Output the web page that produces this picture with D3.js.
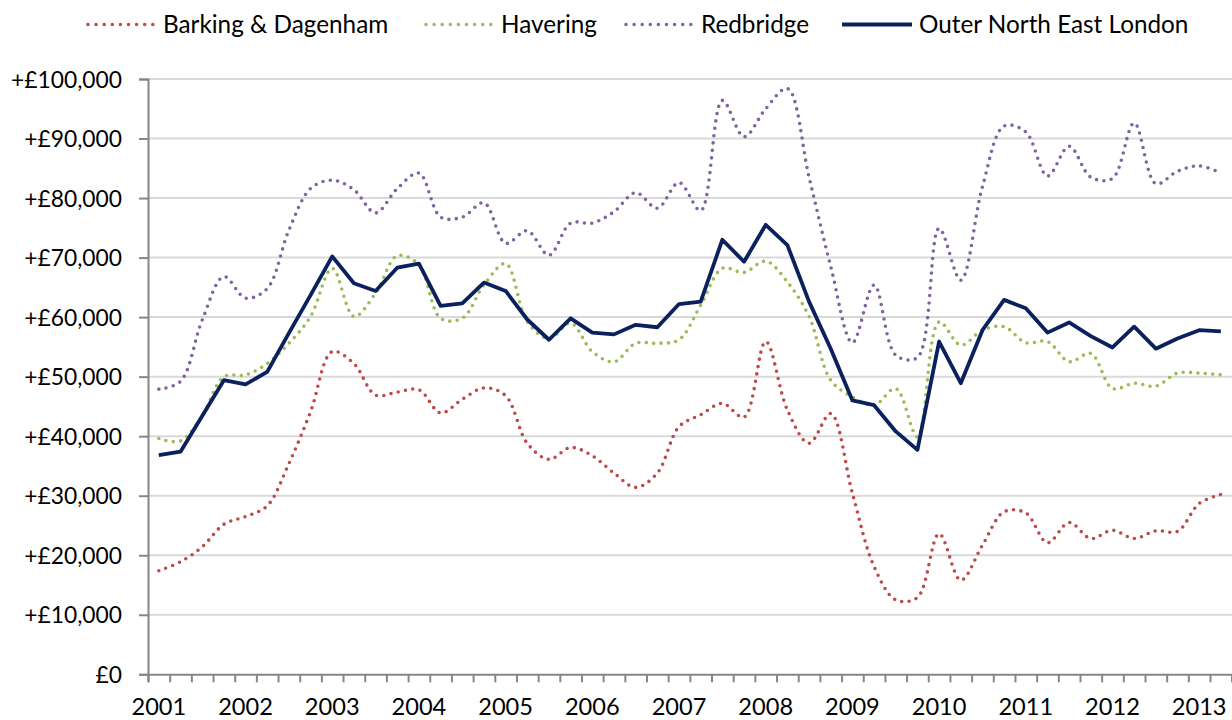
<!DOCTYPE html>
<html>
<head>
<meta charset="utf-8">
<script src="https://cdn.jsdelivr.net/npm/d3@7"></script>
<style>
  html, body { margin: 0; padding: 0; background: #fff; }
  svg { display: block; }
  text { font-family: Lato, "Open Sans", sans-serif; fill: #000; }
</style>
</head>
<body>
<svg id="chart" width="1232" height="720"></svg>
<script>
// Quarterly periods, 2001 Q1 to 2013 Q2
const years = [2001, 2002, 2003, 2004, 2005, 2006, 2007, 2008, 2009, 2010, 2011, 2012, 2013];
const quarters = years.flatMap(y => [1, 2, 3, 4].map(q => `${y} Q${q}`)).slice(0, 50);

// Value labels on the vertical axis
const yTicks = [0, 10000, 20000, 30000, 40000, 50000, 60000, 70000, 80000, 90000, 100000];

const barkingDagenham = [17400, 18900, 21400, 25200, 26500, 28300, 35400, 44100, 54200, 52200,
  46900, 47400, 47800, 43900, 46200, 48100, 46800, 38800, 36100, 38100,
  36700, 33800, 31400, 33800, 41600, 43600, 45500, 43200, 55900, 44400,
  38800, 43800, 30400, 18100, 12500, 12900, 23600, 15800, 21700, 27300,
  27100, 22100, 25500, 22800, 24200, 22800, 24100, 24000, 28700, 30200];

const havering = [39600, 39200, 43400, 50000, 50300, 52200, 55600, 60100, 68200, 60100,
  64000, 70300, 68800, 59800, 59800, 65400, 69000, 59200, 56400, 59000,
  54200, 52500, 55600, 55600, 56200, 62000, 68200, 67500, 69400, 65900,
  60100, 49400, 46600, 45200, 48000, 39900, 59200, 55300, 57800, 58400,
  55700, 55900, 52500, 53900, 48000, 48900, 48400, 50600, 50600, 50300];

const redbridge = [47900, 49200, 59500, 66800, 63200, 64800, 74600, 81600, 83000, 81400,
  77500, 81600, 84200, 76800, 76800, 79200, 72400, 74500, 70400, 75800,
  75800, 77700, 80900, 78300, 82600, 77900, 96400, 90300, 95000, 98400,
  83500, 68500, 55700, 65400, 53600, 53200, 74900, 66200, 81900, 92100,
  91100, 83700, 88700, 83500, 83300, 92600, 82400, 84500, 85400, 84200];

const outerNorthEast = [36800, 37400, 43400, 49400, 48700, 50800, 57300, 63700, 70200, 65700,
  64400, 68300, 69000, 61900, 62300, 65800, 64400, 59600, 56200, 59800,
  57400, 57100, 58700, 58300, 62200, 62600, 73000, 69300, 75500, 72100,
  62600, 54700, 46000, 45200, 40800, 37700, 55900, 48900, 57800, 62900,
  61500, 57400, 59100, 56800, 54900, 58400, 54700, 56400, 57800, 57600];

const series = [
  { name: "Barking & Dagenham", values: barkingDagenham, color: "#BE4B48", dotted: true },
  { name: "Havering", values: havering, color: "#9BBB59", dotted: true },
  { name: "Redbridge", values: redbridge, color: "#8064A2", dotted: true },
  { name: "Outer North East London", values: outerNorthEast, color: "#0A215E", dotted: false }
];

const svg = d3.select("#chart");
const plot = { left: 148, right: 1231.7, top: 79, bottom: 674.3 };

const x = d3.scaleBand().domain(quarters).range([plot.left, plot.right]).padding(0);
const xEdge = d3.scaleLinear().domain([0, quarters.length]).range([plot.left, plot.right]);
const y = d3.scaleLinear().domain([0, 100000]).range([plot.bottom, plot.top]);

// Horizontal gridlines
svg.append("g")
  .selectAll("line")
  .data(yTicks.filter(v => v > 0))
  .join("line")
  .attr("x1", plot.left).attr("x2", 1232)
  .attr("y1", d => y(d)).attr("y2", d => y(d))
  .attr("stroke", "#D9D9D9").attr("stroke-width", 2);

// Vertical axis
const fmt = d3.format(",");
const yAxis = svg.append("g")
  .attr("transform", `translate(${plot.left},0)`)
  .call(d3.axisLeft(y).tickValues(yTicks).tickSize(9).tickPadding(17)
    .tickFormat(v => v === 0 ? "£0" : "+£" + fmt(v)));
yAxis.select(".domain").attr("stroke", "#868686").attr("stroke-width", 2);
yAxis.selectAll(".tick line").attr("stroke", "#868686").attr("stroke-width", 2);
yAxis.selectAll(".tick text").style("font-size", "22.8px").attr("dy", "0.36em");

// Horizontal axis: tick marks between quarters, year labels under each first quarter
const xAxis = svg.append("g")
  .attr("transform", `translate(0,${plot.bottom})`)
  .call(d3.axisBottom(xEdge).tickValues(d3.range(0, quarters.length + 1)).tickSize(8).tickFormat(""));
xAxis.select(".domain").attr("stroke", "#868686").attr("stroke-width", 2);
xAxis.selectAll(".tick line").attr("stroke", "#868686").attr("stroke-width", 2);

svg.append("g")
  .selectAll("text")
  .data(quarters.filter(q => q.endsWith("Q1")))
  .join("text")
  .attr("x", d => x(d) + x.bandwidth() / 2)
  .attr("y", 715)
  .attr("text-anchor", "middle")
  .style("font-size", "23.6px")
  .text(d => d.slice(0, 4));

// Series lines
const smooth = d3.line()
  .x((d, i) => x(quarters[i]) + x.bandwidth() / 2)
  .y(d => y(d))
  .curve(d3.curveCatmullRom.alpha(0.5));
const straight = d3.line()
  .x((d, i) => x(quarters[i]) + x.bandwidth() / 2)
  .y(d => y(d));

svg.append("g")
  .selectAll("path")
  .data(series)
  .join("path")
  .attr("d", s => (s.dotted ? smooth : straight)(s.values))
  .attr("fill", "none")
  .attr("stroke", s => s.color)
  .attr("stroke-width", s => s.dotted ? 3.6 : 3.8)
  .attr("stroke-linecap", s => s.dotted ? "round" : "butt")
  .attr("stroke-linejoin", "round")
  .attr("stroke-dasharray", s => s.dotted ? "0 7.4" : null);

// Legend
const legendX = [87, 425, 625, 842];
const legend = svg.append("g")
  .selectAll("g")
  .data(series)
  .join("g")
  .attr("transform", (s, i) => `translate(${legendX[i]},0)`);
legend.append("line")
  .attr("x1", s => s.dotted ? 1 : 0).attr("x2", s => s.dotted ? 66 : 70)
  .attr("y1", 24.5).attr("y2", 24.5)
  .attr("stroke", s => s.color)
  .attr("stroke-width", s => s.dotted ? 3.6 : 3.8)
  .attr("stroke-linecap", s => s.dotted ? "round" : "butt")
  .attr("stroke-dasharray", s => s.dotted ? "0 8.1" : null);
legend.append("text")
  .attr("x", s => s.dotted ? 76 : 77)
  .attr("y", 33.3)
  .style("font-size", "24.3px")
  .text(s => s.name);
</script>
</body>
</html>
